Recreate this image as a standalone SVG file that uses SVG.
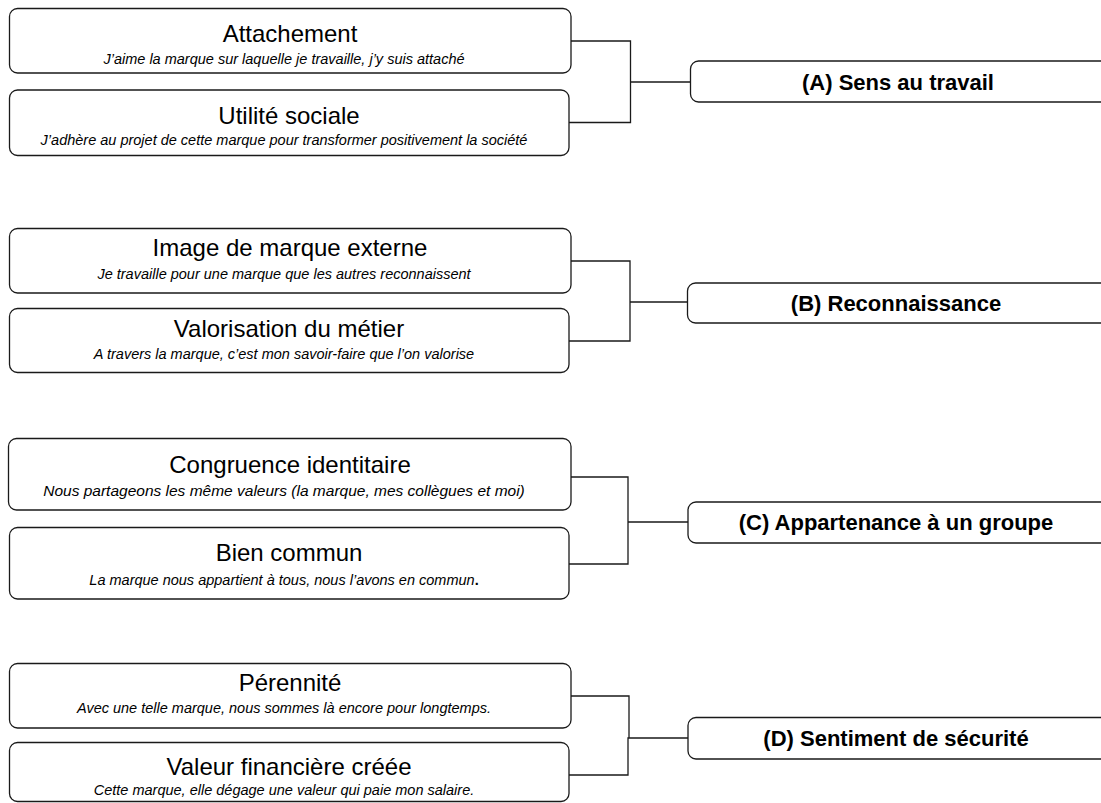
<svg xmlns="http://www.w3.org/2000/svg" width="1101" height="803" viewBox="0 0 1101 803">
<style>
.box{fill:#fff;stroke:#1a1a1a;stroke-width:1.3}
.t{font-family:"Liberation Sans",Arial,sans-serif;font-size:24px;fill:#000;text-anchor:middle}
.s{font-family:"Liberation Sans",Arial,sans-serif;font-size:14.5px;font-style:italic;fill:#000;text-anchor:middle}
.l{font-family:"Liberation Sans",Arial,sans-serif;font-size:22px;font-weight:bold;fill:#000;text-anchor:middle}
.c{fill:none;stroke:#1a1a1a;stroke-width:1.3}
</style>
<rect width="1101" height="803" fill="#fff"/>
<g id="connectors">
<path class="c" d="M571 41H630.5V122.5H569M630.5 82H690.5"/>
<path class="c" d="M571 261H630V341H569M630 302H687.5"/>
<path class="c" d="M571 477H628V564H569M628 522H688"/>
<path class="c" d="M571 696H629V738H628V775H569M628.5 738H688"/>
</g>
<g id="attachement"><rect class="box" x="9.5" y="8.5" width="561.5" height="64.5" rx="8"/><text class="t" x="290" y="42">Attachement</text><text class="s" x="284" y="64">J’aime la marque sur laquelle je travaille, j’y suis attaché</text></g>
<g id="utilite"><rect class="box" x="9.5" y="90" width="559.5" height="65.5" rx="8"/><text class="t" x="289" y="124">Utilité sociale</text><text class="s" x="284" y="145">J’adhère au projet de cette marque pour transformer positivement la société</text></g>
<g id="labelA"><rect class="box" x="690.5" y="61" width="430" height="41" rx="8"/><text class="l" x="898" y="89.5">(A) Sens au travail</text></g>
<g id="image"><rect class="box" x="9.5" y="228.5" width="561.5" height="64.5" rx="8"/><text class="t" x="290" y="256">Image de marque externe</text><text class="s" x="284" y="279">Je travaille pour une marque que les autres reconnaissent</text></g>
<g id="valorisation"><rect class="box" x="9.5" y="308.5" width="559.5" height="64" rx="8"/><text class="t" x="289" y="337">Valorisation du métier</text><text class="s" x="284" y="359">A travers la marque, c’est mon savoir-faire que l’on valorise</text></g>
<g id="labelB"><rect class="box" x="687.5" y="283" width="430" height="40" rx="8"/><text class="l" x="896" y="311">(B) Reconnaissance</text></g>
<g id="congruence"><rect class="box" x="8.5" y="438.5" width="562.5" height="71.5" rx="8"/><text class="t" x="290" y="473">Congruence identitaire</text><text class="s" x="284" y="496" style="font-size:15.5px">Nous partageons les même valeurs (la marque, mes collègues et moi)</text></g>
<g id="bien"><rect class="box" x="9.5" y="527.5" width="559.5" height="71.5" rx="8"/><text class="t" x="289" y="561">Bien commun</text><text class="s" x="284" y="585">La marque nous appartient à tous, nous l’avons en commun<tspan font-style="normal" font-weight="bold">.</tspan></text></g>
<g id="labelC"><rect class="box" x="688" y="502" width="430" height="41" rx="8"/><text class="l" x="896" y="530">(C) Appartenance à un groupe</text></g>
<g id="perennite"><rect class="box" x="9.5" y="663.5" width="561.5" height="64.5" rx="8"/><text class="t" x="290" y="691">Pérennité</text><text class="s" x="284" y="713">Avec une telle marque, nous sommes là encore pour longtemps.</text></g>
<g id="valeur"><rect class="box" x="9.5" y="742.5" width="559.5" height="59" rx="8"/><text class="t" x="289" y="775">Valeur financière créée</text><text class="s" x="284" y="795">Cette marque, elle dégage une valeur qui paie mon salaire.</text></g>
<g id="labelD"><rect class="box" x="688" y="717.5" width="430" height="41.5" rx="8"/><text class="l" x="896" y="746">(D) Sentiment de sécurité</text></g>
</svg>
